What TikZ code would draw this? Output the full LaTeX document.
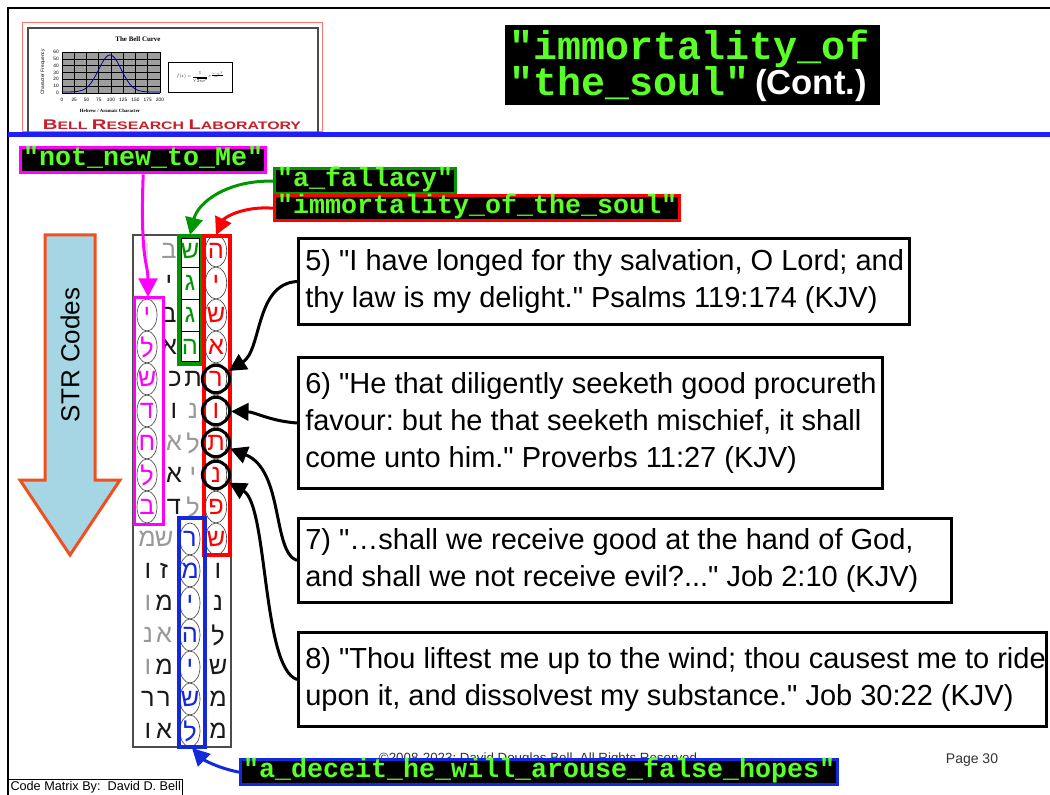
\documentclass[tikz,border=0pt]{standalone}
\usepackage{fontspec}
\setmainfont{Liberation Sans}[Ligatures=TeXOff]
\newfontfamily\heb[Script=Hebrew]{Liberation Sans}
\newfontfamily\mono{Liberation Mono}
\newfontfamily\serifb{Liberation Serif}
\usetikzlibrary{arrows.meta,calc}
\definecolor{codegreen}{RGB}{90,255,40}
\definecolor{mag}{RGB}{255,0,255}
\definecolor{lgreen}{RGB}{0,150,0}
\definecolor{lred}{RGB}{255,0,0}
\definecolor{lblue}{RGB}{20,40,220}
\definecolor{rulblue}{RGB}{30,30,255}
\definecolor{arrowfill}{RGB}{166,214,228}
\definecolor{arrowline}{RGB}{240,80,30}
\definecolor{logored}{RGB}{200,30,40}
\newcommand\hebf{\heb\fontsize{19pt}{20pt}\selectfont}
\newcommand\qtxt{\fontsize{21.75pt}{27.75pt}\selectfont}
\newcommand\BgL{\fontsize{10.5pt}{12pt}\selectfont}
\newcommand\SmL{\fontsize{8.2pt}{10pt}\selectfont}
\frenchspacing
\begin{document}
\begin{tikzpicture}[x=0.75pt,y=-0.75pt,
  lt/.style={text=black!90,font=\hebf,inner sep=0pt},
  lg/.style={text=black!40,font=\hebf,inner sep=0pt},
  lf/.style={text=black!15,font=\hebf,inner sep=0pt},
  lp/.style={text=mag,font=\hebf,inner sep=0pt},
  lgr/.style={text=lgreen,font=\hebf,inner sep=0pt},
  lr/.style={text=lred,font=\hebf,inner sep=0pt},
  lb/.style={text=lblue,font=\hebf,inner sep=0pt},
  ell/.style={draw=black!70,line width=0.5pt},
  bigc/.style={circle,draw=black,line width=2.25pt,minimum size=20.5pt,inner sep=0pt},
  tbox/.style={draw=black,line width=2.25pt,fill=white,anchor=north west,inner sep=0pt},
  ttext/.style={anchor=west,align=left,inner sep=0pt,font=\qtxt},
  lab/.style={fill=black,text=codegreen,font=\mono\bfseries\fontsize{20pt}{22pt}\selectfont,
     inner xsep=2pt,inner ysep=0pt,text height=13.5pt,text depth=5.5pt,line width=2.25pt,anchor=north west},
  blk/.style={draw=black,line width=2.25pt,-{Triangle[length=13pt,width=13pt]}},
  tiny/.style={inner sep=0pt,font=\fontsize{3.6pt}{4pt}\selectfont}
]
\useasboundingbox (0,0) rectangle (1050,795);
\fill[white] (0,0) rectangle (1050,795);
% page frame
\draw[black,line width=1.5pt] (8,796) -- (8,8) -- (1050,8);

% ---------- logo ----------
\draw[draw=red!55,line width=0.75pt] (22,23) rectangle (322,132);
\draw[black!70,line width=1pt] (28,132) -- (28,28) -- (318,28) -- (318,132);
\node[inner sep=0pt,font=\serifb\bfseries\fontsize{5.2pt}{6pt}\selectfont] (bctitle) at (138,39) {The Bell Curve};
\fill[black!38] (62,52) rectangle (160,93);
\foreach \i in {0,...,8} \draw[black,line width=0.4pt] (62+12.25*\i,52) -- (62+12.25*\i,93);
\foreach \j in {0,...,6} \draw[black,line width=0.4pt] (62,52+6.833*\j) -- (160,52+6.833*\j);
\draw[blue!60!black,line width=0.6pt] plot[domain=62:160,samples=70,smooth] (\x,{92-37*exp(-1*pow((\x-110)/16,2))});
\foreach \v [count=\k from 0] in {0,10,20,30,40,50,60}
  \node[tiny,anchor=east] (yn\k) at (59,93-6.833*\k) {\v};
\foreach \v [count=\k from 0] in {0,25,50,75,100,125,150,175,200}
  \node[tiny] (xn\k) at (62+12.25*\k,100) {\v};
\node[tiny,rotate=90] (ylab) at (43,72) {Character Frequency};
\node[tiny,font=\serifb\bfseries\fontsize{3.6pt}{4pt}\selectfont] (xlab) at (110,111) {Hebrew / Aramaic Character};
\draw[black,line width=0.6pt] (168,62) rectangle (232,92);
\node[inner sep=0pt] (formula) at (200,77) {\scalebox{0.36}{$f(x)=\displaystyle\frac{1}{\sqrt{2\pi\sigma^2}}\,e^{\frac{(x-\mu)^2}{2\sigma^2}}$}};
\node[inner sep=0pt,anchor=base,text=logored] (bell) at (172,130)
  {\scalebox{1.45}[1]{\bfseries\BgL B\SmL ELL \BgL R\SmL ESEARCH \BgL L\SmL ABORATORY}};
% blue rule
\draw[rulblue,line width=3.75pt] (8,135) -- (1050,135);

% ---------- title ----------
\node[fill=black,minimum width=281.25pt,minimum height=60pt,anchor=north west,inner sep=0pt] (title) at (505,25) {};
\node[anchor=base west,inner sep=0pt,text=codegreen,font=\mono\bfseries\fontsize{30pt}{32pt}\selectfont] (tl1) at (509,60) {"immortality\_of};
\node[anchor=base west,inner sep=0pt,text=codegreen,font=\mono\bfseries\fontsize{30pt}{32pt}\selectfont] (tl2) at (509,96) {"the\_soul"};
\node[anchor=base west,inner sep=0pt,text=white,font=\bfseries\fontsize{26pt}{28pt}\selectfont] (tc) at ([xshift=4pt,yshift=1pt]tl2.base east) {(Cont.)};

% ---------- STR arrow ----------
\draw[line width=2.25pt,draw=arrowline,fill=arrowfill,line join=miter]
  (45,235) -- (95,235) -- (95,480) -- (120,480) -- (70,555) -- (20,480) -- (45,480) -- cycle;
\node[rotate=90,inner sep=0pt,font=\fontsize{19.5pt}{21pt}\selectfont] (str) at (70,355) {STR Codes};

% ---------- grid ----------
\draw[black!70,line width=0.9pt,fill=white] (133,235) rectangle (231,747);
% green cells
\draw[black,line width=0.5pt] (181,238) rectangle (199,361);
\foreach \j in {1,2,3} \draw[black,line width=0.5pt] (181,235+32*\j) -- (199,235+32*\j);
% ellipses
\foreach \r in {3,...,9} \draw[ell] (147,219+32*\r) ellipse [x radius=7.5pt,y radius=12pt];
\foreach \r in {1,...,10} \draw[ell] (216,219+32*\r) ellipse [x radius=8pt,y radius=12pt];
\foreach \r in {10,...,16} \draw[ell] (190,219+32*\r) ellipse [x radius=7.5pt,y radius=12pt];
% letters
\foreach \r/\c/\x/\l/\s in {
 1/A/147/ו/lf, 1/B/169/ב/lg, 1/C/190/ש/lgr, 1/D/216/ה/lr,
 2/B/169/י/lt, 2/C/190/ג/lgr, 2/D/216/י/lr,
 3/A/147/י/lp, 3/B/169/ב/lt, 3/C/190/ג/lgr, 3/D/216/ש/lr,
 4/A/147/ל/lp, 4/B/169/א/lt, 4/C/190/ה/lgr, 4/D/216/א/lr,
 5/A/147/ש/lp, 5/B/175/כ/lt, 5/C/193/ת/lt, 5/D/216/ר/lr,
 6/A/147/ד/lp, 6/B/174/ו/lt, 6/C/193/נ/lg, 6/D/216/ו/lr,
 7/A/147/ח/lp, 7/B/174/א/lg, 7/C/193/ל/lg, 7/D/216/ת/lr,
 8/A/147/ל/lp, 8/B/174/א/lt, 8/C/193/י/lg, 8/D/216/נ/lr,
 9/A/147/ב/lp, 9/B/174/ד/lt, 9/C/193/ל/lg, 9/D/216/פ/lr,
 10/A/147/מ/lg, 10/B/164/ש/lg, 10/C/190/ר/lb, 10/D/216/ש/lr,
 11/A/148/ו/lt, 11/B/164/ז/lt, 11/C/190/מ/lb, 11/D/218/ו/lt,
 12/A/148/ו/lg, 12/B/164/מ/lt, 12/C/190/י/lb, 12/D/218/נ/lt,
 13/A/148/נ/lg, 13/B/164/א/lg, 13/C/190/ה/lb, 13/D/218/ל/lt,
 14/A/148/ו/lg, 14/B/164/מ/lt, 14/C/190/י/lb, 14/D/218/ש/lt,
 15/A/148/ר/lt, 15/B/164/ר/lt, 15/C/190/ש/lb, 15/D/218/מ/lt,
 16/A/148/ו/lt, 16/B/164/א/lt, 16/C/190/ל/lb, 16/D/218/מ/lt}
 {\node[\s] (g-\r-\c) at (\x,219+32*\r) {\l};}
% coloured boxes
\draw[mag,line width=2.25pt] (134,297) rectangle (163,524);
\draw[lgreen,line width=3pt] (179,236) rectangle (202,364);
\draw[lred,line width=2.8pt] (204,236) rectangle (230,555);
\draw[lblue,line width=2.8pt] (179,518) rectangle (205,747);
% black circles
\foreach \r in {5,...,8} \node[bigc] (c\r) at (216,219+32*\r) {};
\coordinate (ptop) at (148,297);
\coordinate (gtop) at (190,235);
\coordinate (rtop) at (216,235);
\coordinate (btop) at (192,748);

% ---------- labels ----------
\node[lab,draw=mag] (L1) at (19,146) {"not\_new\_to\_Me"};
\node[lab,draw=lgreen] (L2) at (273,167) {"a\_fallacy"};
\node[lab,draw=lred] (L3) at (273,194) {"immortality\_of\_the\_soul"};

\draw[mag,line width=2.25pt,-{Triangle[length=14pt,width=14pt]}] (L1.south) .. controls (140,262) and (148,262) .. (ptop);
\draw[lgreen,line width=2.25pt,-{Triangle[length=13pt,width=13pt]}] (L2.west) .. controls (228,180) and (198,202) .. (gtop);
\draw[lred,line width=2.25pt,-{Triangle[length=13pt,width=13pt]}] (L3.west) .. controls (242,206) and (224,218) .. (rtop);

% ---------- quotation boxes ----------
\node[tbox,minimum width=458.25pt,minimum height=64.5pt] (b5) at (297,237) {};
\node[ttext] (t5) at ([xshift=6pt]b5.west) {5) "I have longed for thy salvation, O Lord; and\\thy law is my delight." Psalms 119:174 (KJV)};
\node[tbox,minimum width=438pt,minimum height=98.25pt] (b6) at (297,356) {};
\node[ttext] (t6) at ([xshift=6pt]b6.west) {6) "He that diligently seeketh good procureth\\favour: but he that seeketh mischief, it shall\\come unto him." Proverbs 11:27 (KJV)};
\node[tbox,minimum width=489.75pt,minimum height=63pt] (b7) at (297,517) {};
\node[ttext] (t7) at ([xshift=6pt]b7.west) {7) "…shall we receive good at the hand of God,\\and shall we not receive evil?..." Job 2:10 (KJV)};
\node[tbox,minimum width=561pt,minimum height=70.5pt] (b8) at (297,631) {};
\node[ttext] (t8) at ([xshift=6pt]b8.west) {8) "Thou liftest me up to the wind; thou causest me to ride\\upon it, and dissolvest my substance." Job 30:22 (KJV)};

\draw[blk] (b5.west) .. controls (255,284) and (262,350) .. (c5);
\draw[blk] (b6.west) .. controls (270,421) and (255,412) .. (c6);
\draw[blk] (b7.west) .. controls (272,552) and (284,470) .. (c7);
\draw[blk] (b8.west) .. controls (262,668) and (268,505) .. (c8);

% ---------- footer ----------
\node[anchor=base,inner sep=0pt,text=black!80,font=\fontsize{10pt}{12pt}\selectfont] (copy) at (538,762) {©2008-2023: David Douglas Bell, All Rights Reserved};
\node[anchor=base,inner sep=0pt,text=black!80,font=\fontsize{10.5pt}{12pt}\selectfont] (page) at (972,763) {Page 30};
\node[draw=black,line width=0.75pt,anchor=south west,inner sep=1.5pt,font=\fontsize{9.5pt}{11pt}\selectfont] (cm) at (8,796) {Code Matrix By:\ \ David D. Bell};
\node[lab,draw=lblue] (L4) at (239,758) {"a\_deceit\_he\_will\_arouse\_false\_hopes"};
\draw[lblue,line width=2.25pt,-{Triangle[length=13pt,width=13pt]}] (L4.west) .. controls (218,768) and (204,760) .. (btop);
\end{tikzpicture}
\end{document}
